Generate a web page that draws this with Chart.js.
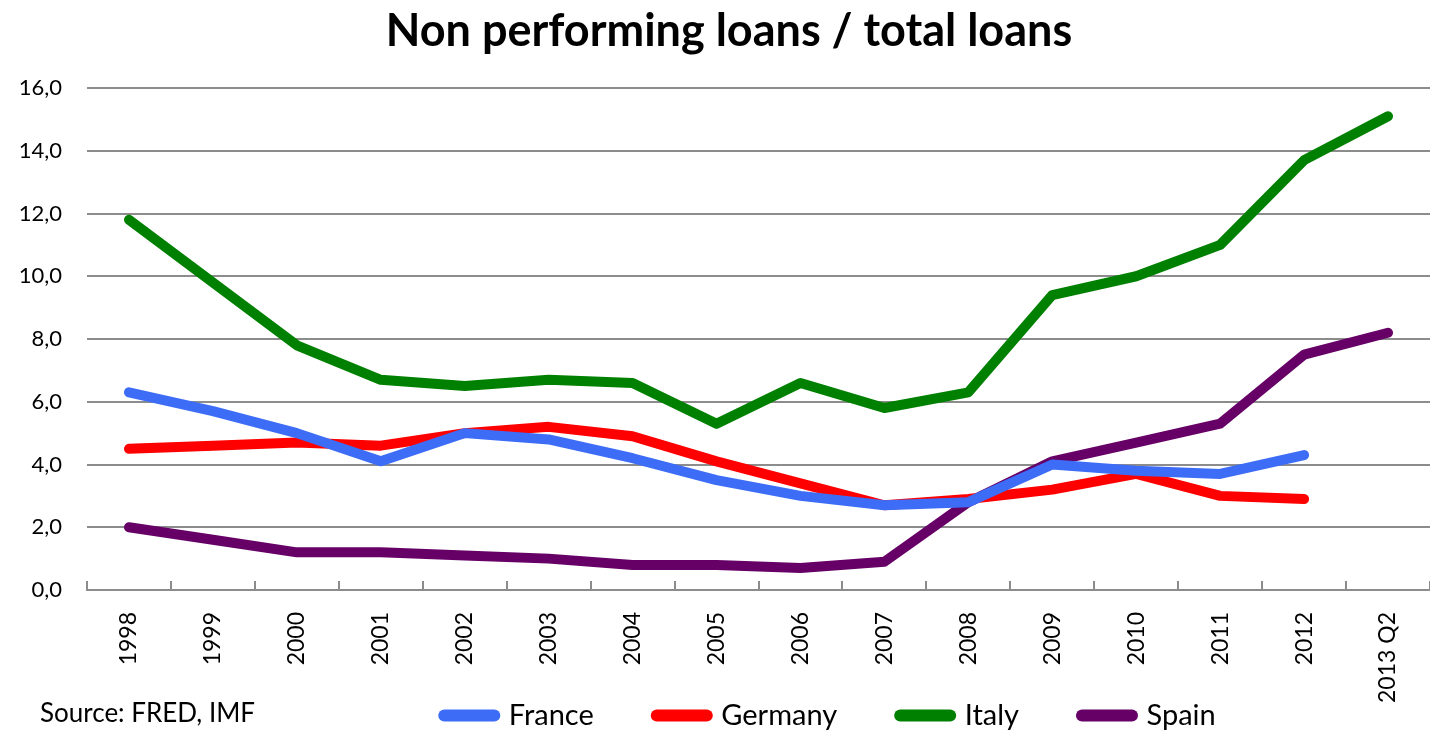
<!DOCTYPE html>
<html>
<head>
<meta charset="utf-8">
<script src="https://cdn.jsdelivr.net/npm/chart.js@4"></script>
<style>
  html, body { margin: 0; padding: 0; background: #fff; }
  #wrap { width: 1430px; height: 732px; }
</style>
</head>
<body>
<div id="wrap"><canvas id="nplChart" width="1430" height="732"></canvas></div>
<script>
// categories and series
const years = ['1998','1999','2000','2001','2002','2003','2004','2005','2006','2007','2008','2009','2010','2011','2012','2013 Q2'];
const france  = [6.3, 5.7, 5.0, 4.1, 5.0, 4.8, 4.2, 3.5, 3.0, 2.7, 2.8, 4.0, 3.8, 3.7, 4.3, null];
const germany = [4.5, 4.6, 4.7, 4.6, 5.0, 5.2, 4.9, 4.1, 3.4, 2.7, 2.9, 3.2, 3.7, 3.0, 2.9, null];
const italy   = [11.8, 9.8, 7.8, 6.7, 6.5, 6.7, 6.6, 5.3, 6.6, 5.8, 6.3, 9.4, 10.0, 11.0, 13.7, 15.1];
const spain   = [2.0, 1.6, 1.2, 1.2, 1.1, 1.0, 0.8, 0.8, 0.7, 0.9, 2.8, 4.1, 4.7, 5.3, 7.5, 8.2];
const yTicks  = [0, 2, 4, 6, 8, 10, 12, 14, 16];

const FONT = 'Lato, "Liberation Sans", sans-serif';
const GRID = '#8c8c8c';

function line(label, data, color) {
    return {
        label: label,
        data: data,
        borderColor: color,
        backgroundColor: color,
        borderWidth: 10,
        borderCapStyle: 'round',
        borderJoinStyle: 'round',
        pointRadius: 0,
        pointHoverRadius: 0,
        tension: 0,
        spanGaps: false
    };
}

// small tick marks pointing up from the x axis, between categories
const insideTicks = {
    id: 'insideTicks',
    beforeDatasetsDraw(chart) {
        const x = chart.scales.x;
        const ctx = chart.ctx;
        const half = (x.getPixelForValue(1) - x.getPixelForValue(0)) / 2;
        ctx.save();
        ctx.strokeStyle = GRID;
        ctx.lineWidth = 2;
        for (let i = 0; i <= years.length; i++) {
            const px = Math.round(x.getPixelForValue(i) - half);
            ctx.beginPath();
            ctx.moveTo(px, x.top);
            ctx.lineTo(px, x.top - 9);
            ctx.stroke();
        }
        ctx.restore();
    }
};

// source note, and move legend / title where the original has them
const extras = {
    id: 'extras',
    afterLayout(chart) {
        const lg = chart.legend;
        lg.left += 115;
        lg.right += 115;
        lg.top = 717 - lg.options.labels.padding - 16;
        const t = chart.titleBlock;
        t.left += 14;
        t.right += 14;
    },
    afterDraw(chart) {
        const ctx = chart.ctx;
        ctx.save();
        ctx.fillStyle = '#000';
        ctx.font = '26px ' + FONT;
        ctx.textBaseline = 'middle';
        ctx.fillText('Source: FRED, IMF', 40, 714);
        ctx.restore();
    }
};

const ctx = document.getElementById('nplChart').getContext('2d');
new Chart(ctx, {
    type: 'line',
    data: {
        labels: years,
        datasets: [
            line('France', france, '#3d6df7'),
            line('Germany', germany, '#ff0000'),
            line('Italy', italy, '#008000'),
            line('Spain', spain, '#660066')
        ]
    },
    options: {
        responsive: false,
        animation: false,
        layout: { padding: { left: 0, right: 0, top: 0, bottom: 0 } },
        plugins: {
            title: {
                display: true,
                text: 'Non performing loans / total loans',
                color: '#000',
                font: { family: FONT, size: 45, weight: 'bold' },
                padding: { top: 4, bottom: 30 }
            },
            legend: {
                position: 'bottom',
                maxHeight: 30,
                labels: {
                    usePointStyle: true,
                    pointStyle: 'line',
                    pointStyleWidth: 50,
                    padding: 63,
                    color: '#000',
                    font: { family: FONT, size: 29 },
                    generateLabels(chart) {
                        const items = Chart.defaults.plugins.legend.labels.generateLabels(chart);
                        items.forEach(function(it) { it.lineCap = 'round'; it.lineWidth = 12; });
                        return items;
                    }
                }
            },
            tooltip: { enabled: false }
        },
        scales: {
            x: {
                offset: true,
                grid: { display: false },
                border: { display: true, color: GRID, width: 2 },
                afterFit(scale) { scale.height = 112; },
                ticks: {
                    color: '#000',
                    font: { family: FONT, size: 23 },
                    minRotation: 90,
                    maxRotation: 90,
                    autoSkip: false,
                    padding: 14
                }
            },
            y: {
                min: 0,
                max: 16,
                afterBuildTicks(scale) {
                    scale.ticks = yTicks.map(function(v) { return { value: v }; });
                },
                afterFit(scale) { scale.width = 87; },
                grid: { color: GRID, lineWidth: 2, drawTicks: false },
                border: { display: false },
                ticks: {
                    color: '#000',
                    font: { family: FONT, size: 22 },
                    padding: 25,
                    callback: function(v) { return v.toFixed(1).replace('.', ','); }
                }
            }
        }
    },
    plugins: [insideTicks, extras]
});
</script>
</body>
</html>
